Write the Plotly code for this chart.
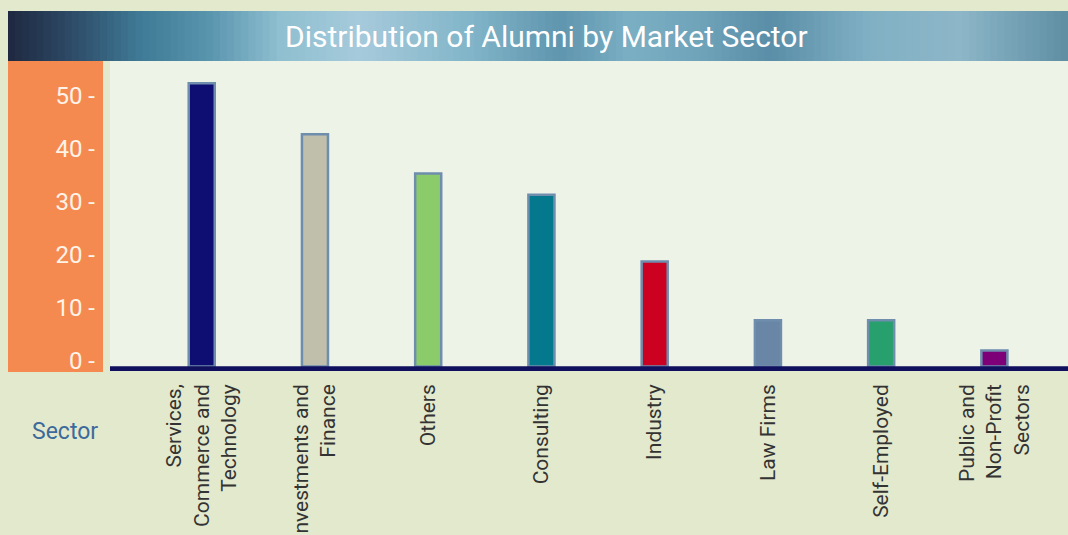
import plotly.graph_objects as go

# ---- data ----
sectors = [
    "Services,<br>Commerce and<br>Technology",
    "Investments and<br>Finance",
    "Others",
    "Consulting",
    "Industry",
    "Law Firms",
    "Self-Employed",
    "Public and<br>Non-Profit<br>Sectors",
]
alumni = [53.4, 43.8, 36.4, 32.4, 19.8, 8.7, 8.7, 3.0]
bar_colors = ["#0E0E72", "#C0BFAC", "#8CCB6A", "#04798E", "#CC0020", "#6A86A6", "#27A06E", "#7E0079"]
y_ticks = [0, 10, 20, 30, 40, 50]
y_tick_text = [f"{v} -" for v in y_ticks]

FONT = "Roboto, sans-serif"

fig = go.Figure()
fig.add_trace(go.Bar(
    x=sectors, y=alumni, width=0.23,
    marker=dict(color=bar_colors, line=dict(color="#6F8DAD", width=2.5)),
    hoverinfo="skip",
))

W, H = 1068, 535
L, T, B = 110, 61, 164
plot_w = W - L
plot_h = H - T - B
ymin, ymax = -0.85, 57.6

shapes = []
# title gradient bar
stops = [
    (8, (0x1E, 0x28, 0x40)), (70, (0x2D, 0x4A, 0x66)), (140, (0x3F, 0x7A, 0x96)),
    (210, (0x5A, 0x95, 0xAE)), (280, (0x8F, 0xBF, 0xD0)), (360, (0xA6, 0xCA, 0xDB)),
    (470, (0x82, 0xB5, 0xC9)), (560, (0x5F, 0x95, 0xAE)), (630, (0x7A, 0xAF, 0xC4)),
    (700, (0x6F, 0xA3, 0xB9)), (770, (0x5A, 0x8E, 0xA8)), (870, (0x80, 0xB0, 0xC4)),
    (960, (0x8D, 0xB6, 0xC8)), (1068, (0x5E, 0x8E, 0xA3)),
]

def col_at(px):
    for (x0, c0), (x1, c1) in zip(stops[:-1], stops[1:]):
        if x0 <= px <= x1:
            t = (px - x0) / (x1 - x0)
            return "rgb(%d,%d,%d)" % tuple(round(a + (b - a) * t) for a, b in zip(c0, c1))
    return "rgb(94,142,163)"

n = 150
x_start, x_end = 8, 1068
step = (x_end - x_start) / n
for i in range(n):
    px0 = x_start + i * step
    px1 = px0 + step + 0.8
    shapes.append(dict(type="rect", xref="paper", yref="paper",
                       x0=(px0 - L) / plot_w, x1=(min(px1, W) - L) / plot_w,
                       y0=1, y1=1 + 50 / plot_h,
                       fillcolor=col_at(px0 + step / 2), line=dict(width=0), layer="above"))
# orange left panel
shapes.append(dict(type="rect", xref="paper", yref="paper",
                   x0=(8 - L) / plot_w, x1=(103 - L) / plot_w,
                   y0=-1 / plot_h, y1=1,
                   fillcolor="#F58A51", line=dict(width=0), layer="below"))
# thick baseline
shapes.append(dict(type="rect", xref="paper", yref="y",
                   x0=0, x1=1, y0=ymin, y1=0.05,
                   fillcolor="#10105F", line=dict(width=0), layer="above"))

fig.update_layout(
    width=W, height=H,
    margin=dict(l=L, r=0, t=T, b=B, autoexpand=False),
    paper_bgcolor="#E3E9CD",
    plot_bgcolor="#EEF3E8",
    showlegend=False,
    shapes=shapes,
    font=dict(family=FONT),
    annotations=[
        dict(text="Distribution of Alumni by Market Sector", xref="paper", yref="paper",
             x=(546 - L) / plot_w, y=1 + 25 / plot_h, xanchor="center", yanchor="middle",
             showarrow=False, font=dict(family=FONT, size=30, color="#FFFFFF")),
        dict(text="Sector", xref="paper", yref="paper",
             x=(65 - L) / plot_w, y=-(431 - (H - B)) / plot_h, xanchor="center", yanchor="middle",
             showarrow=False, font=dict(family=FONT, size=23, color="#3D6A9C")),
    ],
    xaxis=dict(
        type="category", range=[-0.81, 7.65], showgrid=False, zeroline=False,
        showline=False, ticks="", tickangle=-90, automargin=False,
        tickfont=dict(family=FONT, size=21, color="#333333"),
        ticklabelstandoff=8,
    ),
    yaxis=dict(
        range=[ymin, ymax], tickvals=y_ticks, ticktext=y_tick_text, automargin=False,
        showgrid=False, zeroline=False, showline=False, ticks="",
        tickfont=dict(family=FONT, size=24, color="#FFF3E8"),
        ticklabelstandoff=14, ticklabelshift=-6,
    ),
)

fig.write_html("out.html", config={"displayModeBar": False},
               post_script="document.body.style.margin='0';")
